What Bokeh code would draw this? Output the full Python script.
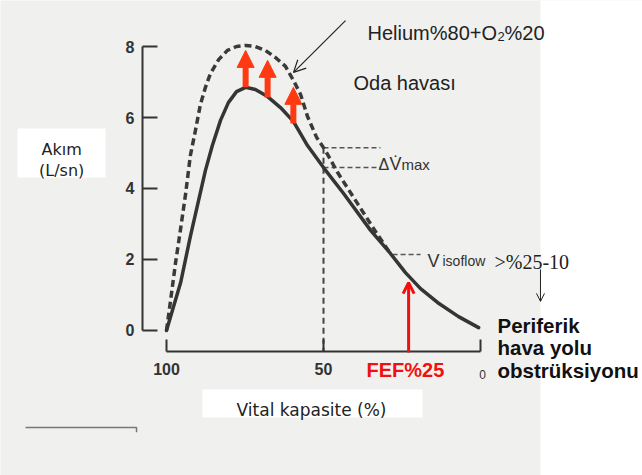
from bokeh.plotting import figure
from bokeh.models import Range1d, LinearAxis, FixedTicker, Arrow, NormalHead, OpenHead
from bokeh.core.properties import value
from bokeh.embed import file_html
from bokeh.resources import INLINE

# ---- data (vital capacity %, flow L/s) ----
vc_room = [100.0, 95.5, 92.4, 89.8, 87.6, 85.4, 82.8, 80.3, 77.7, 74.8, 71.7, 67.8,
           63.7, 59.6, 55.1, 50.0, 43.6, 35.0, 28.7, 23.9, 19.1, 13.7, 7.0, 0.6]
flow_room = [0.0, 1.35, 2.65, 3.66, 4.51, 5.21, 5.92, 6.42, 6.73, 6.85, 6.79, 6.59,
             6.28, 5.89, 5.21, 4.59, 3.86, 2.82, 2.17, 1.63, 1.18, 0.79, 0.39, 0.08]

vc_helium = [100.0, 98.7, 97.1, 95.5, 93.9, 92.4, 90.8, 89.2, 87.6, 86.0, 83.4, 80.6,
             77.7, 74.8, 71.7, 68.5, 65.3, 62.1, 59.6, 57.3, 55.1, 52.2, 49.4, 45.5,
             39.2, 32.8, 28.7]
flow_helium = [0.0, 0.85, 1.92, 2.87, 3.86, 4.93, 5.63, 6.37, 6.85, 7.24, 7.63, 7.89,
               8.00, 8.03, 8.00, 7.89, 7.69, 7.44, 7.05, 6.65, 6.03, 5.44, 5.07, 4.45,
               3.58, 2.70, 2.17]

gain_vc = [74.8, 67.8, 59.6]
gain_from = [6.85, 6.56, 5.83]
gain_to = [7.89, 7.61, 6.85]

vmax_vc = 50.0
vmax_helium = 5.15
vmax_room = 4.59
isoflow_vc = 28.0
isoflow_flow = 2.14
fef25_vc = 22.9
fef25_flow = 1.35

x_ticks = [100, 50, 0]
y_ticks = [0, 2, 4, 6, 8]

# ---- styling ----
BG = "#f0f0ee"
INK = "#333333"
ORANGE = "#ff3a12"
RED = "#f01010"
SANS = value("Liberation Sans")

p = figure(width=642, height=475,
           x_range=Range1d(152.87, -51.59), y_range=Range1d(-4.085, 9.296),
           output_backend="svg", toolbar_location=None,
           x_axis_type=None, y_axis_type=None, min_border=0)
p.background_fill_color = BG
p.border_fill_color = BG
p.outline_line_color = None
p.xgrid.visible = False
p.ygrid.visible = False

# white strip on the right side of the page
p.quad(left=[-19.1], right=[-60], bottom=[-5], top=[10], fill_color="white", line_color=None)

# axes
yax = LinearAxis(fixed_location=107.64, bounds=(0, 8), ticker=FixedTicker(ticks=y_ticks),
                 major_tick_in=15, major_tick_out=0, minor_tick_in=0, minor_tick_out=0,
                 major_label_standoff=8, axis_line_width=2, axis_line_color=INK,
                 major_tick_line_width=2, major_tick_line_color=INK,
                 major_label_text_font="Liberation Sans", major_label_text_font_style="bold",
                 major_label_text_font_size="16px", major_label_text_color=INK)
p.add_layout(yax, "left")

xax = LinearAxis(fixed_location=-0.59, bounds=(0, 100), ticker=FixedTicker(ticks=x_ticks),
                 major_tick_in=12, major_tick_out=0, minor_tick_in=0, minor_tick_out=0,
                 major_label_standoff=12, axis_line_width=2, axis_line_color=INK,
                 major_tick_line_width=2, major_tick_line_color=INK,
                 major_label_overrides={0: ""},
                 major_label_text_font="Liberation Sans", major_label_text_font_style="bold",
                 major_label_text_font_size="16px", major_label_text_color=INK)
p.add_layout(xax, "below")
p.text(x=[-0.64], y=[-1.24], text=["0"], text_font=SANS, text_font_size="12px",
       text_color=INK, text_align="center", text_baseline="alphabetic")

# reference dashed guides
p.line(x=[vmax_vc, vmax_vc], y=[vmax_helium, -0.59], line_color="#444444", line_width=2,
       line_dash="6 4")
p.line(x=[vmax_vc, 31.85], y=[vmax_helium, vmax_helium], line_color="#555555", line_width=1.5,
       line_dash="5 3")
p.line(x=[vmax_vc, 31.85], y=[vmax_room, vmax_room], line_color="#555555", line_width=1.5,
       line_dash="5 3")
p.line(x=[isoflow_vc, 19.1], y=[isoflow_flow, isoflow_flow], line_color="#555555",
       line_width=1.5, line_dash="5 3")

# curves
p.line(x=vc_helium, y=flow_helium, line_color="#3a3a3a", line_width=3.5, line_dash="7 4",
       line_join="round")
p.line(x=vc_room, y=flow_room, line_color="#353535", line_width=3.5, line_join="round",
       line_cap="round")

# red gain arrows
for vc, f0, f1 in zip(gain_vc, gain_from, gain_to):
    p.add_layout(Arrow(end=NormalHead(size=17, fill_color=ORANGE, line_color=ORANGE, line_width=1),
                       x_start=vc, y_start=f0, x_end=vc, y_end=f1,
                       line_color=ORANGE, line_width=6))

# FEF25 arrow
p.add_layout(Arrow(end=OpenHead(size=11, line_color=RED, line_width=3),
                   x_start=fef25_vc, y_start=-0.62, x_end=fef25_vc, y_end=fef25_flow,
                   line_color=RED, line_width=3))
p.text(x=[36.31], y=[-1.10], text=["FEF%25"], text_font=SANS, text_font_style="bold",
       text_font_size="20px", text_color=RED, text_baseline="alphabetic")

# helium annotation
p.add_layout(Arrow(end=OpenHead(size=12, line_color="#222222", line_width=1.2),
                   x_start=43.0, y_start=8.73, x_end=59.55, y_end=7.27,
                   line_color="#222222", line_width=1.2))
p.text(x=[35.99, 35.99, 35.99], y=[8.39, 8.39, 8.39], text=["Helium%80+O", "2", "%20"],
       x_offset=[0, 130, 137], y_offset=[0, 4, 0], text_font=SANS,
       text_font_size=["20px", "13px", "20px"], text_color="#222222",
       text_baseline="alphabetic")
p.text(x=[40.45], y=[6.96], text=["Oda havası"], text_font=SANS, text_font_size="20px",
       text_color="#222222", text_baseline="alphabetic")

# delta Vmax label
p.text(x=[32.48, 32.48, 32.48], y=[4.68, 4.68, 4.68], text=["Δ", "V̇", "max"],
       x_offset=[0, 11, 23], text_font=SANS, text_font_size=["16px", "18px", "15px"],
       text_color="#333333", text_baseline="alphabetic")

# isoflow label
p.text(x=[16.88, 16.88], y=[1.97, 1.97], text=["V", "isoflow"], x_offset=[0, 15],
       text_font=SANS, text_font_size=["18px", "14px"], text_color="#333333",
       text_baseline="alphabetic")
p.text(x=[-4.46], y=[1.92], text=[">%25-10"], text_font=value("Liberation Serif"),
       text_font_size="20px", text_color="#222222", text_baseline="alphabetic")
p.add_layout(Arrow(end=OpenHead(size=8, line_color="#222222", line_width=1),
                   x_start=-19.1, y_start=1.72, x_end=-19.1, y_end=0.82,
                   line_color="#222222", line_width=1))

p.text(x=[-5.41, -5.41, -5.41], y=[0.14, -0.48, -1.13],
       text=["Periferik", "hava yolu", "obstrüksiyonu"], text_font=SANS,
       text_font_style="bold", text_font_size="20.5px", text_color="#111111",
       text_baseline="alphabetic")

# axis title boxes
p.quad(left=[147.45, 88.54], right=[119.43, 18.47], top=[5.69, -1.66], bottom=[4.31, -2.45],
       fill_color="white", line_color=None)
p.text(x=[133.4, 133.4], y=[5.10, 4.51], text=["Akım", "(L/sn)"],
       text_font=value("DejaVu Sans"), text_font_size="16px", text_color="#222222",
       text_align="center", text_baseline="alphabetic")
p.text(x=[53.82], y=[-2.25], text=["Vital kapasite (%)"], text_font=value("DejaVu Sans"),
       text_font_size="17px", text_color="#222222", text_align="center",
       text_baseline="alphabetic")

# stray rule at bottom left
p.line(x=[144.9, 109.55, 109.55], y=[-2.73, -2.73, -2.87], line_color="#777777", line_width=1.5)

open("out.html", "w").write(file_html(p, INLINE))
